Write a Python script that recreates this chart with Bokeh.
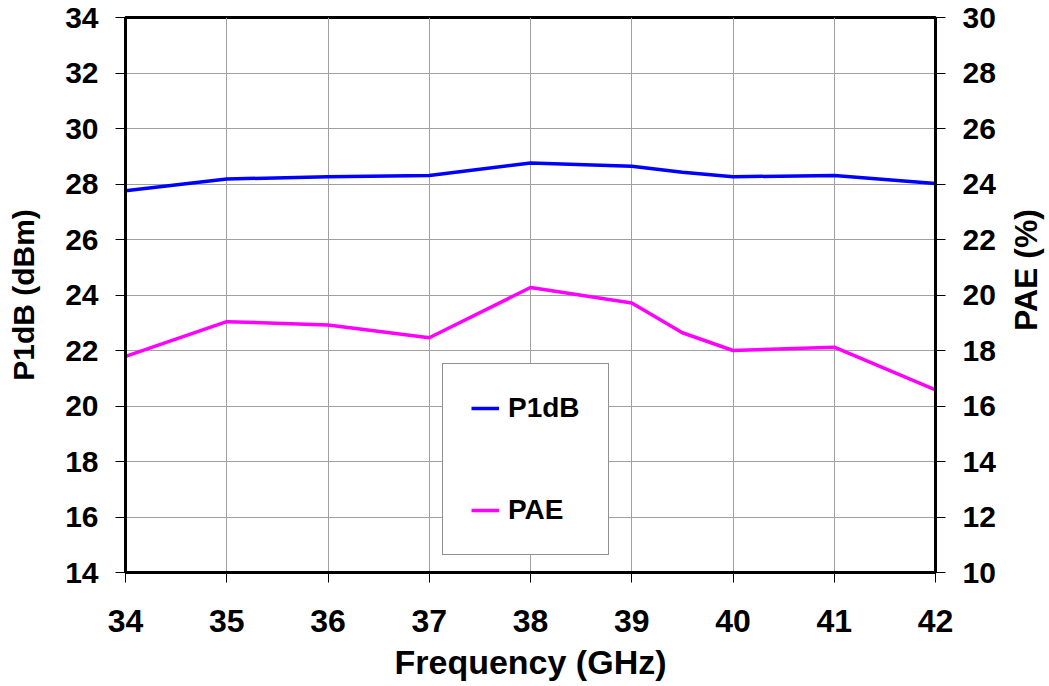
import math
from bokeh.plotting import figure
from bokeh.layouts import row
from bokeh.models import Range1d, LinearAxis, Legend, LegendItem, FixedTicker
from bokeh.core.properties import value
from bokeh.embed import file_html
from bokeh.resources import INLINE

freq = [34, 35, 36, 37, 38, 39, 39.5, 40, 41, 42]
p1db = [27.76, 28.18, 28.26, 28.31, 28.76, 28.64, 28.42, 28.26, 28.31, 28.02]
pae = [17.79, 19.04, 18.92, 18.46, 20.27, 19.71, 18.64, 18.00, 18.12, 16.58]
x_ticks = [34, 35, 36, 37, 38, 39, 40, 41, 42]
left_ticks = [14, 16, 18, 20, 22, 24, 26, 28, 30, 32, 34]
right_ticks = [10, 12, 14, 16, 18, 20, 22, 24, 26, 28, 30]

FONT = "Liberation Sans"

p = figure(width=1001, height=686, output_backend="svg", toolbar_location=None,
           x_range=Range1d(34, 42), y_range=Range1d(14, 34),
           min_border_left=125, min_border_right=66, min_border_top=17, min_border_bottom=114)
p.extra_y_ranges = {"pae": Range1d(10, 30)}

p.outline_line_color = "black"
p.outline_line_width = 3
p.background_fill_color = "white"
p.border_fill_color = "white"

for g in (p.xgrid[0], p.ygrid[0]):
    g.grid_line_color = "#a0a0a0"
    g.grid_line_width = 1
p.xgrid[0].ticker = FixedTicker(ticks=x_ticks)
p.ygrid[0].ticker = FixedTicker(ticks=left_ticks)

def style_axis(ax, size, title_size):
    ax.axis_line_color = "black"
    ax.axis_line_width = 3
    ax.major_tick_line_color = "black"
    ax.major_tick_line_width = 1
    ax.major_tick_out = 10
    ax.major_tick_in = 0
    ax.minor_tick_line_color = None
    ax.major_label_text_font = FONT
    ax.major_label_text_font_style = "bold"
    ax.major_label_text_font_size = size
    ax.major_label_text_color = "black"
    ax.axis_label_text_font = FONT
    ax.axis_label_text_font_style = "bold"
    ax.axis_label_text_font_size = title_size
    ax.axis_label_text_color = "black"

xa = p.xaxis[0]
xa.ticker = FixedTicker(ticks=x_ticks)
xa.axis_label = "Frequency (GHz)"
style_axis(xa, "32px", "34px")
xa.major_label_standoff = 27
xa.axis_label_standoff = 8

ya = p.yaxis[0]
ya.ticker = FixedTicker(ticks=left_ticks)
ya.axis_label = "P1dB (dBm)"
style_axis(ya, "30px", "30px")
ya.major_label_standoff = 17
ya.axis_label_standoff = 22

ra = LinearAxis(y_range_name="pae")
ra.ticker = FixedTicker(ticks=right_ticks)
style_axis(ra, "30px", "30px")
ra.major_label_standoff = 17
p.add_layout(ra, "right")

r1 = p.line(freq, p1db, line_color="#0000FF", line_width=3.5)
r2 = p.line(freq, pae, line_color="#FF00FF", line_width=3.5, y_range_name="pae")

legend = Legend(items=[LegendItem(label="P1dB", renderers=[r1]),
                       LegendItem(label="PAE", renderers=[r2])],
                location=(317, 17), orientation="vertical")
legend.border_line_color = "#222222"
legend.border_line_width = 1.5
legend.background_fill_color = "white"
legend.background_fill_alpha = 1
legend.padding = 28
legend.spacing = 70
legend.label_height = 32
legend.glyph_height = 32
legend.glyph_width = 28
legend.label_standoff = 9
legend.label_text_font = FONT
legend.label_text_font_style = "bold"
legend.label_text_font_size = "28px"
legend.label_text_color = "black"
legend.margin = 0
p.add_layout(legend, "center")

# narrow side panel holding the right-axis title (reads bottom-to-top)
t = figure(width=48, height=686, output_backend="svg", toolbar_location=None,
           x_range=Range1d(0, 1), y_range=Range1d(0, 1),
           min_border_left=0, min_border_right=0, min_border_top=0, min_border_bottom=0)
t.axis.visible = False
t.grid.visible = False
t.outline_line_color = None
t.background_fill_color = "white"
t.border_fill_color = "white"
t.text(x=[0.5], y=[0.545], text=["PAE (%)"], angle=math.pi / 2,
       text_align="center", text_baseline="middle",
       text_font=value(FONT), text_font_style="bold", text_font_size="32px",
       text_color="black")

layout = row(p, t, spacing=0)
open("out.html", "w").write(file_html(layout, INLINE))
